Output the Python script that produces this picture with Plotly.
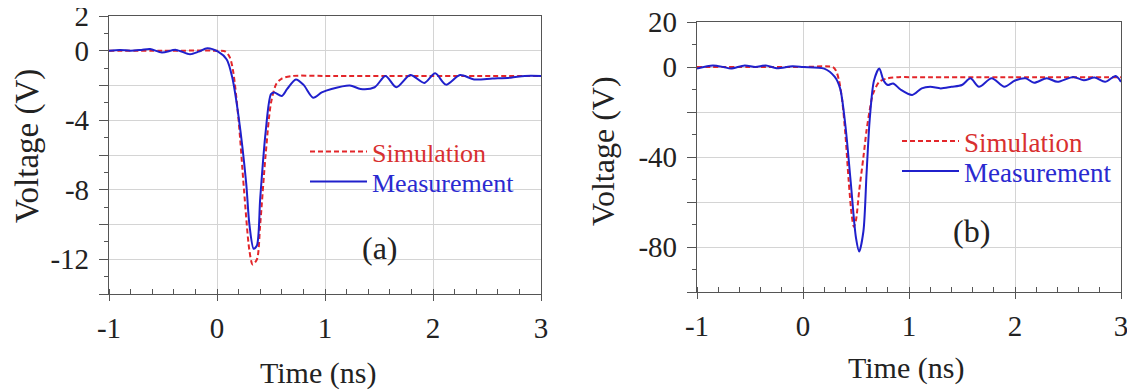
import plotly.graph_objects as go

# ---------------- data ----------------
# panel (a)
t_a_meas = [-1.0, -0.9, -0.8, -0.7, -0.62, -0.51, -0.38, -0.25, -0.17, -0.09, 0.01, 0.09, 0.14,
            0.2, 0.27, 0.3, 0.34, 0.37, 0.4, 0.45, 0.5, 0.53, 0.6, 0.65, 0.73, 0.8, 0.89, 0.97,
            1.06, 1.23, 1.33, 1.46, 1.56, 1.66, 1.79, 1.92, 2.02, 2.12, 2.25, 2.38, 2.55, 2.72,
            2.85, 3.0]
v_a_meas = [0.0, 0.05, 0.0, 0.05, 0.1, -0.1, 0.05, -0.2, -0.05, 0.15, -0.05, -0.5, -1.5,
            -3.8, -7.6, -10.0, -11.4, -11.2, -8.5, -4.7, -2.5, -2.4, -2.6, -2.2, -1.65, -1.95,
            -2.7, -2.4, -2.2, -2.0, -2.2, -2.1, -1.45, -2.1, -1.4, -1.85, -1.3, -1.95, -1.4,
            -1.65, -1.6, -1.55, -1.45, -1.45]
t_a_sim = [-1.0, -0.5, 0.0, 0.08, 0.12, 0.15, 0.2, 0.25, 0.3, 0.33, 0.37, 0.4, 0.45, 0.5,
           0.55, 0.6, 0.7, 1.0, 2.0, 3.0]
v_a_sim = [0.0, 0.0, 0.0, -0.05, -0.4, -1.2, -4.0, -8.0, -11.5, -12.3, -12.0, -10.0, -6.0,
           -3.0, -1.9, -1.6, -1.45, -1.45, -1.45, -1.45]

# panel (b)
t_b_meas = [-1.0, -0.85, -0.75, -0.68, -0.55, -0.45, -0.35, -0.25, -0.1, 0.0, 0.2, 0.3, 0.35,
            0.4, 0.45, 0.5, 0.53, 0.57, 0.6, 0.63, 0.67, 0.72, 0.76, 0.8, 0.85, 0.92, 1.03,
            1.12, 1.2, 1.3, 1.4, 1.5, 1.58, 1.66, 1.78, 1.9, 2.0, 2.1, 2.18, 2.3, 2.4, 2.55,
            2.65, 2.75, 2.85, 2.95, 3.0]
v_b_meas = [-0.7, 0.7, 0.0, -0.7, 0.7, 0.0, 0.7, -0.5, 0.3, 0.0, -0.7, -4.4, -9.5, -26, -51,
            -76, -82, -73, -47, -23, -6, -0.7, -6, -8, -7.3, -10, -12.4, -9.5, -8.8, -9.5,
            -8.8, -8, -5, -8.8, -5, -8.8, -6, -5, -7, -5, -6.6, -4.4, -5.9, -4.7, -6.6, -4.0,
            -6.6]
t_b_sim = [-1.0, -0.5, 0.0, 0.28, 0.31, 0.34, 0.37, 0.4, 0.43, 0.46, 0.48, 0.5, 0.53, 0.57,
           0.6, 0.63, 0.66, 0.72, 0.8, 0.9, 1.0, 2.0, 3.0]
v_b_sim = [0.0, 0.0, 0.0, 0.0, -1.5, -6, -15, -30, -50, -66, -71, -68, -55, -40, -28, -19,
           -12, -6.6, -5.0, -4.5, -4.5, -4.5, -4.5]

x_ticks = [-1, 0, 1, 2, 3]
x_text = ["-1", "0", "1", "2", "3"]
ya_ticks = [2, 0, -2, -4, -6, -8, -10, -12, -14]
ya_text = ["2", "0", "", "-4", "", "-8", "", "-12", ""]
yb_ticks = [20, 0, -20, -40, -60, -80, -100]
yb_text = ["20", "0", "", "-40", "", "-80", ""]

RED = "#e3262a"
BLUE = "#2020cc"
FONT = "Liberation Serif"

# page body has an 8px margin: figure is sized to fit and positions are given in page pixels
OFF = 8
W, H = 1135 - OFF, 392 - OFF


def px(v):
    return (v - OFF) / W


def py(v):
    return 1 - (v - OFF) / H


fig = go.Figure()

sim_name = '<span style="color:#d83030">Simulation</span>'
meas_name = '<span style="color:#2a2ad0">Measurement</span>'

fig.add_trace(go.Scatter(x=t_a_sim, y=v_a_sim, mode="lines", xaxis="x", yaxis="y",
                         line=dict(color=RED, width=2, dash="5px,3px", shape="spline", smoothing=0.8),
                         name=sim_name, legend="legend"))
fig.add_trace(go.Scatter(x=t_a_meas, y=v_a_meas, mode="lines", xaxis="x", yaxis="y",
                         line=dict(color=BLUE, width=2, shape="spline", smoothing=0.8),
                         name=meas_name, legend="legend2"))
fig.add_trace(go.Scatter(x=t_b_sim, y=v_b_sim, mode="lines", xaxis="x2", yaxis="y2",
                         line=dict(color=RED, width=2, dash="5px,3px", shape="spline", smoothing=0.8),
                         name=sim_name, legend="legend3"))
fig.add_trace(go.Scatter(x=t_b_meas, y=v_b_meas, mode="lines", xaxis="x2", yaxis="y2",
                         line=dict(color=BLUE, width=2, shape="spline", smoothing=0.8),
                         name=meas_name, legend="legend4"))

xcommon = dict(range=[-1, 3], tickvals=x_ticks, ticktext=x_text, showgrid=True,
               gridcolor="#d4d4d4", gridwidth=1, automargin=False, ticklabeloverflow="allow",
               showline=True, linecolor="#555", linewidth=1.2, mirror=True, zeroline=False,
               ticks="outside", ticklen=6, tickcolor="#555",
               minor=dict(dtick=0.2, ticks="inside", ticklen=5, tickcolor="#555", showgrid=False),
               tickfont=dict(family=FONT, size=29, color="#222"), ticklabelstandoff=2)
ycommon = dict(showgrid=True, gridcolor="#d4d4d4", gridwidth=1, showline=True, linecolor="#555",
               linewidth=1.2, mirror=True, zeroline=False, ticks="outside", ticklen=9,
               automargin=False, ticklabeloverflow="allow", ticklabelstandoff=4,
               tickcolor="#555", tickfont=dict(family=FONT, size=29, color="#222"))


def leg(x, y, size):
    return dict(x=px(x), y=py(y), xanchor="left", yanchor="top", bgcolor="rgba(0,0,0,0)",
                font=dict(family=FONT, size=size), itemwidth=57, tracegroupgap=0)


fig.update_layout(
    width=W, height=H, margin=dict(l=0, r=0, t=0, b=0, autoexpand=False),
    paper_bgcolor="white", plot_bgcolor="white",
    font=dict(family=FONT, color="#222"),
    xaxis=dict(domain=[px(109), px(541)], anchor="y", **xcommon),
    yaxis=dict(domain=[py(294), py(16)], anchor="x", range=[-14, 2], tickvals=ya_ticks,
               ticktext=ya_text, minor=dict(dtick=1, ticks="outside", ticklen=4, tickcolor="#555",
                                            showgrid=False), **ycommon),
    xaxis2=dict(domain=[px(697), px(1121)], anchor="y2", **xcommon),
    yaxis2=dict(domain=[py(292), py(22)], anchor="x2", range=[-100, 20], tickvals=yb_ticks,
                ticktext=yb_text, minor=dict(dtick=10, ticks="outside", ticklen=4, tickcolor="#555",
                                             showgrid=False), **ycommon),
    legend=leg(305, 128, 26),
    legend2=leg(305, 158, 26),
    legend3=leg(897, 117, 27),
    legend4=leg(897, 147, 27),
    showlegend=True,
)

ann = [
    dict(text="Voltage (V)", x=27, y=146, textangle=-90, size=33),
    dict(text="Voltage (V)", x=603, y=151, textangle=-90, size=32),
    dict(text="Time (ns)", x=318, y=373, textangle=0, size=30),
    dict(text="Time (ns)", x=906, y=368, textangle=0, size=30),
    dict(text="(a)", x=380, y=248, textangle=0, size=32),
    dict(text="(b)", x=971, y=231, textangle=0, size=32),
]
for a in ann:
    fig.add_annotation(text=a["text"], x=px(a["x"]), y=py(a["y"]), xref="paper", yref="paper",
                       xanchor="center", yanchor="middle", showarrow=False, textangle=a["textangle"],
                       font=dict(family=FONT, size=a["size"], color="#222"))

fig.write_html("out.html")
